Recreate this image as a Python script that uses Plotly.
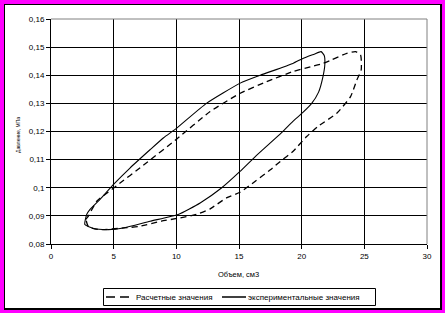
import plotly.graph_objects as go

# Experimental (solid) loop
exp_x = [2.7, 2.85, 3.1, 3.9, 4.97, 6.3, 7.9, 8.96, 10.03, 12.4, 15.1, 16.7, 19.3, 20.1, 21.0, 21.55,
         21.8, 21.85, 21.7, 21.35, 20.8, 20.1, 19.3, 18.4, 16.3, 15.08, 13.6, 11.9, 10.15, 7.9, 5.77,
         4.57, 3.4, 2.7]
exp_y = [0.0869, 0.0905, 0.0922, 0.0958, 0.1011, 0.1070, 0.1135, 0.1177, 0.1212, 0.1300, 0.1372,
         0.1400, 0.1442, 0.1460, 0.1475, 0.1484, 0.1470, 0.1440, 0.1395, 0.1340, 0.1300, 0.1268,
         0.1236, 0.1196, 0.1111, 0.1058, 0.0999, 0.0946, 0.0905, 0.0881, 0.0857, 0.0851, 0.0855, 0.0869]

# Calculated (dashed) loop
calc_x = [3.0, 2.8, 2.98, 3.65, 5.0, 7.6, 10.0, 12.7, 15.1, 17.2, 19.3, 20.7, 21.7, 22.4, 23.6, 24.3,
          24.7, 24.75, 24.4, 23.9, 22.8, 21.3, 20.4, 19.3, 18.3, 17.5, 16.3, 15.08, 14.0, 12.7, 11.6,
          10.3, 8.8, 7.1, 5.8, 3.9, 3.0]
calc_y = [0.0861, 0.0887, 0.0899, 0.0952, 0.0999, 0.1088, 0.1172, 0.1271, 0.1336, 0.1377, 0.1413,
          0.1430, 0.1442, 0.1455, 0.1478, 0.1484, 0.1472, 0.1419, 0.1383, 0.1324, 0.1265, 0.1218,
          0.1182, 0.1129, 0.1094, 0.1064, 0.1023, 0.0984, 0.0964, 0.0925, 0.0905, 0.0893, 0.0881,
          0.0863, 0.0857, 0.0851, 0.0861]

series_names = ["Расчетные значения", "экспериментальные значения"]

x_ticks = [0, 5, 10, 15, 20, 25, 30]
y_ticks = [0.08, 0.09, 0.10, 0.11, 0.12, 0.13, 0.14, 0.15, 0.16]
y_labels = ["0,08", "0,09", "0,1", "0,11", "0,12", "0,13", "0,14", "0,15", "0,16"]

W, H = 445, 313
ML, MR, MT, MB = 51, 18, 19, 69
PW, PH = W - ML - MR, H - MT - MB

def px(xp):
    return (xp - ML) / PW

def py(yp):
    return (H - MB - yp) / PH

FONT = "Liberation Sans, Arial, sans-serif"
DASH = "6px,4px"

fig = go.Figure()
fig.add_trace(go.Scatter(x=calc_x, y=calc_y, mode="lines", name=series_names[0], showlegend=False,
                         line=dict(color="black", width=1.3, dash=DASH, shape="spline", smoothing=0.5)))
fig.add_trace(go.Scatter(x=exp_x, y=exp_y, mode="lines", name=series_names[1], showlegend=False,
                         line=dict(color="black", width=1.1, shape="spline", smoothing=0.5)))

LY = 297
shapes = [
    dict(type="rect", xref="paper", yref="paper", x0=px(4), x1=px(442), y0=py(310), y1=py(4),
         fillcolor="black", line=dict(width=0), layer="below"),
    dict(type="rect", xref="paper", yref="paper", x0=px(5), x1=px(440), y0=py(308), y1=py(5),
         fillcolor="white", line=dict(width=0), layer="below"),
    dict(type="line", xref="paper", yref="paper", x0=0, x1=1, y0=1, y1=1,
         line=dict(color="#808080", width=1), layer="above"),
    dict(type="line", xref="paper", yref="paper", x0=1, x1=1, y0=0, y1=1,
         line=dict(color="#808080", width=1), layer="above"),
    # legend box and samples
    dict(type="rect", xref="paper", yref="paper", x0=px(103.5), x1=px(375.5), y0=py(305.5), y1=py(288.5),
         fillcolor="white", line=dict(color="black", width=1)),
    dict(type="line", xref="paper", yref="paper", x0=px(106), x1=px(134), y0=py(LY), y1=py(LY),
         line=dict(color="black", width=1.5, dash="9px,5px")),
    dict(type="line", xref="paper", yref="paper", x0=px(222), x1=px(246), y0=py(LY), y1=py(LY),
         line=dict(color="black", width=1.5)),
]

fig.update_layout(
    width=W, height=H,
    margin=dict(l=ML, r=MR, t=MT, b=MB),
    paper_bgcolor="#FF00FF",
    plot_bgcolor="rgba(0,0,0,0)",
    font=dict(family=FONT, size=8, color="black"),
    shapes=shapes,
    showlegend=False,
    annotations=[
        dict(text="Объем, см3", xref="paper", yref="paper", x=px(238), y=py(274),
             showarrow=False, font=dict(size=7.5), xanchor="center", yanchor="middle"),
        dict(text="Давление, МПа", xref="paper", yref="paper", x=px(18), y=py(135),
             showarrow=False, font=dict(size=5), textangle=-90, xanchor="center", yanchor="middle"),
        dict(text=series_names[0], xref="paper", yref="paper", x=px(136), y=py(LY),
             showarrow=False, font=dict(size=8), xanchor="left", yanchor="middle", xshift=-2),
        dict(text=series_names[1], xref="paper", yref="paper", x=px(248), y=py(LY),
             showarrow=False, font=dict(size=8), xanchor="left", yanchor="middle", xshift=-2),
    ],
)
fig.update_xaxes(range=[0, 30], tickvals=x_ticks, ticktext=[str(v) for v in x_ticks],
                 showgrid=True, gridcolor="black", gridwidth=1, zeroline=False,
                 showline=True, linecolor="black", linewidth=1,
                 ticks="outside", ticklen=4, tickcolor="black", tickfont=dict(size=8))
fig.update_yaxes(range=[0.08, 0.16], tickvals=y_ticks, ticktext=y_labels,
                 showgrid=True, gridcolor="black", gridwidth=1, zeroline=False,
                 showline=True, linecolor="black", linewidth=1,
                 ticks="outside", ticklen=4, tickcolor="black", tickfont=dict(size=8))

fig.write_html("out.html")
